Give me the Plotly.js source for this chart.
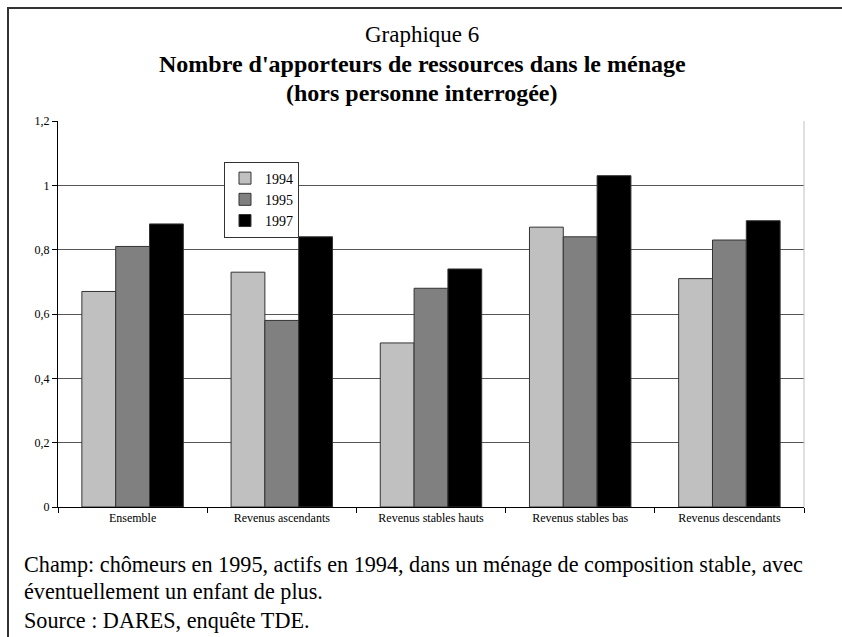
<!DOCTYPE html>
<html>
<head>
<meta charset="utf-8">
<script src="https://cdn.plot.ly/plotly-3.0.1.min.js"></script>
<style>
  html, body { margin: 0; padding: 0; background: #fff; }
  #wrap { position: relative; width: 842px; height: 637px; overflow: hidden; }
  #frame { position: absolute; left: 7px; top: 7px; width: 900px; height: 700px;
           border-top: 2px solid #333; border-left: 2px solid #333; }
  #chart { position: absolute; left: 0; top: 0; width: 842px; height: 637px; }
</style>
</head>
<body>
<div id="wrap">
  <div id="frame"></div>
  <div id="chart"></div>
</div>
<script>
// Data
const categories = ["Ensemble", "Revenus ascendants", "Revenus stables hauts", "Revenus stables bas", "Revenus descendants"];
const seriesNames = ["1994", "1995", "1997"];
const values1994 = [0.67, 0.73, 0.51, 0.87, 0.71];
const values1995 = [0.81, 0.58, 0.68, 0.84, 0.83];
const values1997 = [0.88, 0.84, 0.74, 1.03, 0.89];
const yTickVals = [0, 0.2, 0.4, 0.6, 0.8, 1, 1.2];
const titleLines = ["Graphique 6", "<b>Nombre d'apporteurs de ressources dans le ménage</b>", "<b>(hors personne interrogée)</b>"];
const noteLines = ["Champ: chômeurs en 1995, actifs en 1994, dans un ménage de composition stable, avec",
                   "éventuellement un enfant de plus.",
                   "Source : DARES, enquête TDE."];

const colors = ["#c0c0c0", "#808080", "#000000"];
const allValues = [values1994, values1995, values1997];

const serif = "Liberation Serif, serif";

const traces = allValues.map((vals, i) => ({
  type: "bar",
  name: seriesNames[i],
  x: categories,
  y: vals,
  marker: { color: colors[i], line: { color: "#333333", width: 1 } },
  hoverinfo: "skip"
}));

// Vertical placement (paper units) of the title and note lines
const titleY = [1.2228, 1.1477, 1.0725];
const noteY = [-0.150, -0.220, -0.293];

const annotations = [];
titleLines.forEach((t, i) => annotations.push({
  xref: "paper", yref: "paper", x: 0.488, y: titleY[i], xanchor: "center", yanchor: "middle",
  showarrow: false, text: t,
  font: { family: serif, size: i === 0 ? 23 : 24, color: "#000" }
}));
noteLines.forEach((t, i) => annotations.push({
  xref: "paper", yref: "paper", x: -0.048, y: noteY[i], xanchor: "left", yanchor: "middle",
  align: "left", showarrow: false, text: t,
  font: { family: serif, size: 22.2, color: "#000" }
}));

const layout = {
  width: 842,
  height: 637,
  margin: { l: 58, r: 38, t: 121, b: 130 },
  paper_bgcolor: "rgba(0,0,0,0)",
  plot_bgcolor: "rgba(0,0,0,0)",
  separators: ", ",
  barmode: "group",
  bargap: 0.32,
  bargroupgap: 0,
  font: { family: serif, color: "#000" },
  xaxis: {
    type: "category",
    tickson: "boundaries",
    ticks: "outside",
    ticklen: 5,
    tickcolor: "#000",
    showline: true,
    linecolor: "#000",
    linewidth: 1,
    showgrid: false,
    tickfont: { family: serif, size: 12, color: "#000" },
    fixedrange: true
  },
  yaxis: {
    range: [0, 1.2],
    tickvals: yTickVals,
    ticks: "outside",
    ticklen: 5,
    tickcolor: "#000",
    showline: true,
    linecolor: "#000",
    linewidth: 1,
    showgrid: true,
    gridcolor: "#555555",
    gridwidth: 1,
    zeroline: false,
    tickfont: { family: serif, size: 12, color: "#000" },
    fixedrange: true
  },
  legend: {
    x: 0.2225,
    y: 0.895,
    xanchor: "left",
    yanchor: "top",
    bgcolor: "#ffffff",
    bordercolor: "#333333",
    borderwidth: 1,
    font: { family: serif, size: 14, color: "#000" },
    tracegroupgap: 0,
    itemwidth: 30
  },
  shapes: [
    { type: "line", xref: "paper", yref: "paper", x0: 1, x1: 1, y0: 0, y1: 1,
      line: { color: "#c0c0c0", width: 1 } }
  ],
  annotations: annotations,
  showlegend: true
};

Plotly.newPlot("chart", traces, layout, { displayModeBar: false, staticPlot: true });
</script>
</body>
</html>
